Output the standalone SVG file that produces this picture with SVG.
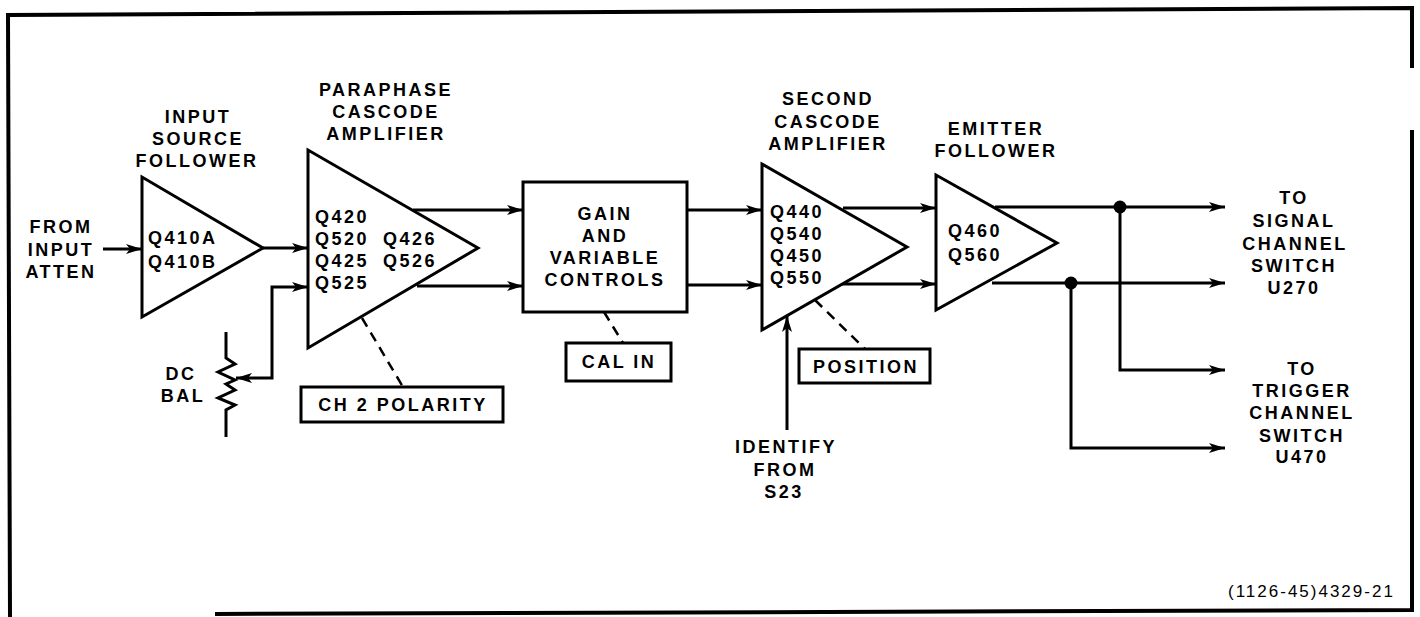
<svg xmlns="http://www.w3.org/2000/svg" width="1420" height="617" viewBox="0 0 1420 617">
<style>
.t{font-family:"Liberation Sans",Arial,sans-serif;font-weight:bold;font-size:18px;letter-spacing:2.5px;fill:#000}
.c{text-anchor:middle}
.w{fill:#fff;stroke:#000;stroke-width:3}
.l{fill:none;stroke:#000;stroke-width:3}
.b{fill:none;stroke:#000;stroke-width:4}
.d{fill:none;stroke:#000;stroke-width:2.5;stroke-dasharray:10 7}
.fig{font-family:"Liberation Sans",Arial,sans-serif;font-size:17px;letter-spacing:2px;fill:#000}
</style>
<defs>
<marker id="ah" markerUnits="userSpaceOnUse" markerWidth="18" markerHeight="12" refX="16" refY="5" orient="auto-start-reverse" viewBox="0 0 18 10">
<path d="M0,0 L16,5 L0,10 L4,5 z" fill="#000"/>
</marker>
</defs>
<rect width="1420" height="617" fill="#fff"/>
<g id="border">
<polyline class="b" points="10,617 8,15 1412,8 1412,68"/>
<polyline class="b" points="1412,130 1412,610 215,614"/>
</g>
<g id="connectors">
<line class="l" x1="103" y1="249" x2="142" y2="249" marker-end="url(#ah)"/>
<line class="l" x1="263" y1="248" x2="308" y2="248" marker-end="url(#ah)"/>
<polyline class="l" points="236,378 272,378 272,287 308,287" marker-start="url(#ah)" marker-end="url(#ah)"/>
<line class="l" x1="413" y1="210" x2="523" y2="210" marker-end="url(#ah)"/>
<line class="l" x1="417" y1="286" x2="523" y2="286" marker-end="url(#ah)"/>
<line class="l" x1="687" y1="210" x2="762" y2="210" marker-end="url(#ah)"/>
<line class="l" x1="687" y1="285" x2="762" y2="285" marker-end="url(#ah)"/>
<line class="l" x1="843" y1="208" x2="936" y2="208" marker-end="url(#ah)"/>
<line class="l" x1="840" y1="284" x2="936" y2="284" marker-end="url(#ah)"/>
<line class="l" x1="995" y1="207" x2="1225" y2="207" marker-end="url(#ah)"/>
<line class="l" x1="992" y1="283" x2="1225" y2="283" marker-end="url(#ah)"/>
<polyline class="l" points="1120,207 1120,370 1225,370" marker-end="url(#ah)"/>
<polyline class="l" points="1071,283 1071,448 1225,448" marker-end="url(#ah)"/>
<circle cx="1120" cy="207" r="6.5" fill="#000"/>
<circle cx="1071" cy="283" r="6.5" fill="#000"/>
<line class="l" x1="787" y1="430" x2="787" y2="316" marker-end="url(#ah)"/>
<line class="d" x1="362" y1="318" x2="403" y2="387"/>
<line class="d" x1="604" y1="312" x2="623" y2="343"/>
<line class="d" x1="815" y1="300" x2="865" y2="349"/>
</g>
<g id="input-label">
<text class="t c" x="61" y="233">FROM</text>
<text class="t c" x="61" y="256">INPUT</text>
<text class="t c" x="61" y="278">ATTEN</text>
</g>
<g id="input-source-follower">
<text class="t c" x="198" y="123">INPUT</text>
<text class="t c" x="198" y="145">SOURCE</text>
<text class="t c" x="197" y="167">FOLLOWER</text>
<polygon class="w" points="142,177 142,317 263,248"/>
<text class="t" x="148" y="244">Q410A</text>
<text class="t" x="148" y="268">Q410B</text>
</g>
<g id="dc-bal">
<polyline class="l" points="226,332 226,358 235,364 218,372 235,380 226,384 235,390 218,398 235,405 226,410 226,437"/>
<text class="t c" x="181" y="380">DC</text>
<text class="t c" x="183" y="402">BAL</text>
</g>
<g id="paraphase-cascode-amplifier">
<text class="t c" x="386" y="96">PARAPHASE</text>
<text class="t c" x="386" y="118">CASCODE</text>
<text class="t c" x="386" y="140">AMPLIFIER</text>
<polygon class="w" points="308,150 308,348 478,248"/>
<text class="t" x="315" y="223">Q420</text>
<text class="t" x="315" y="245">Q520</text>
<text class="t" x="315" y="267">Q425</text>
<text class="t" x="315" y="289">Q525</text>
<text class="t" x="383" y="245">Q426</text>
<text class="t" x="383" y="267">Q526</text>
</g>
<g id="ch2-polarity">
<rect class="w" x="301" y="387" width="202" height="35"/>
<text class="t c" x="403" y="411">CH 2 POLARITY</text>
</g>
<g id="gain-variable-controls">
<rect class="w" x="523" y="182" width="164" height="130"/>
<text class="t c" x="605" y="220">GAIN</text>
<text class="t c" x="605" y="242">AND</text>
<text class="t c" x="605" y="264">VARIABLE</text>
<text class="t c" x="605" y="286">CONTROLS</text>
</g>
<g id="cal-in">
<rect class="w" x="566" y="343" width="105" height="38"/>
<text class="t c" x="619" y="368">CAL IN</text>
</g>
<g id="second-cascode-amplifier">
<text class="t c" x="828" y="105">SECOND</text>
<text class="t c" x="828" y="128">CASCODE</text>
<text class="t c" x="828" y="150">AMPLIFIER</text>
<polygon class="w" points="762,164 762,330 907,247"/>
<text class="t" x="770" y="218">Q440</text>
<text class="t" x="770" y="240">Q540</text>
<text class="t" x="770" y="262">Q450</text>
<text class="t" x="770" y="284">Q550</text>
</g>
<g id="position">
<rect class="w" x="799" y="349" width="131" height="34"/>
<text class="t c" x="866" y="373">POSITION</text>
</g>
<g id="identify">
<text class="t c" x="786" y="453">IDENTIFY</text>
<text class="t c" x="785" y="476">FROM</text>
<text class="t c" x="784" y="498">S23</text>
</g>
<g id="emitter-follower">
<text class="t c" x="996" y="135">EMITTER</text>
<text class="t c" x="996" y="157">FOLLOWER</text>
<polygon class="w" points="936,175 936,310 1057,243"/>
<text class="t" x="948" y="237">Q460</text>
<text class="t" x="948" y="261">Q560</text>
</g>
<g id="signal-channel-switch">
<text class="t c" x="1294" y="204">TO</text>
<text class="t c" x="1294" y="227">SIGNAL</text>
<text class="t c" x="1295" y="250">CHANNEL</text>
<text class="t c" x="1294" y="272">SWITCH</text>
<text class="t c" x="1294" y="294">U270</text>
</g>
<g id="trigger-channel-switch">
<text class="t c" x="1302" y="375">TO</text>
<text class="t c" x="1302" y="397">TRIGGER</text>
<text class="t c" x="1302" y="419">CHANNEL</text>
<text class="t c" x="1302" y="442">SWITCH</text>
<text class="t c" x="1302" y="463">U470</text>
</g>
<text class="fig" x="1228" y="597">(1126-45)4329-21</text>
</svg>
